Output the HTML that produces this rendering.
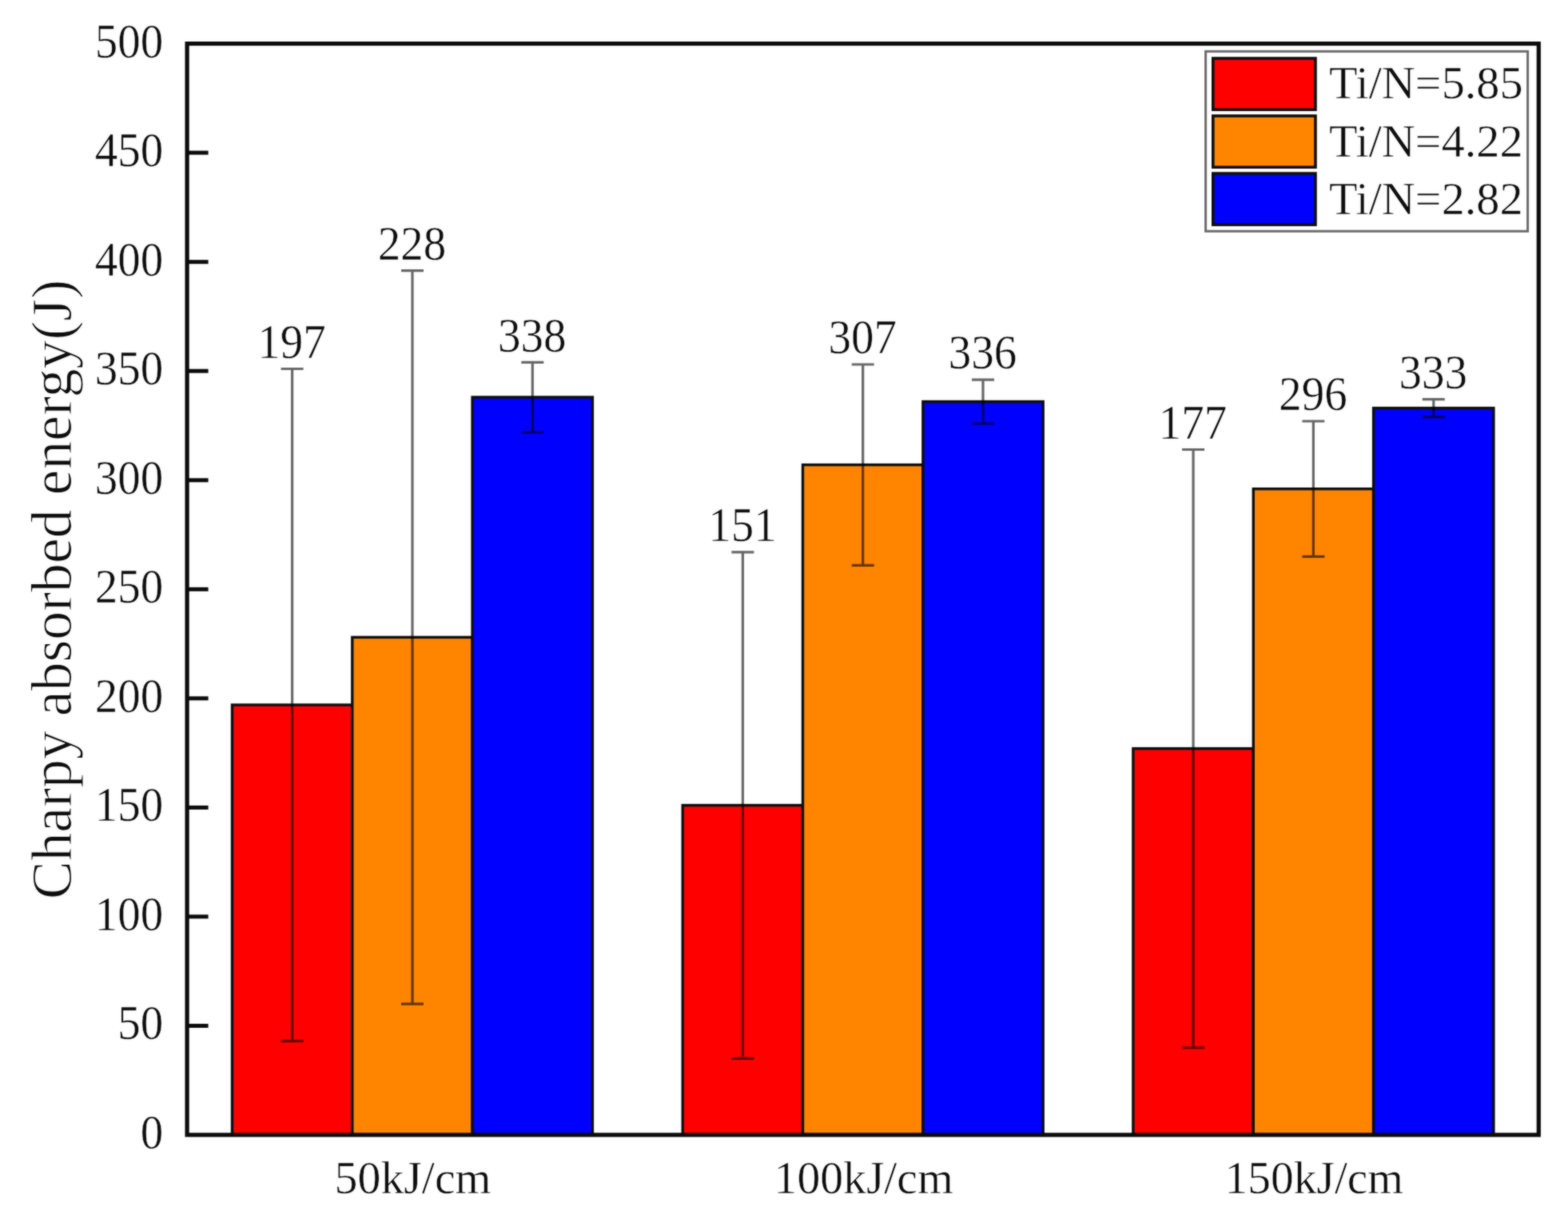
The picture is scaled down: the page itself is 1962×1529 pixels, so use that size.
<!DOCTYPE html>
<html lang="en">
<head>
<meta charset="utf-8">
<title>Charpy absorbed energy</title>
<style>
html,body{margin:0;padding:0;background:#fff;}
body{width:1962px;height:1529px;overflow:hidden;}
svg{display:block;}
text{font-family:"Liberation Serif","Times New Roman",serif;fill:#0c0c0c;stroke:#fff;stroke-width:0.5px;stroke-linejoin:round;}
.ttl{stroke-width:1px;}
</style>
</head>
<body>
<svg width="1962" height="1529" viewBox="0 0 1962 1529">
<defs><filter id="soft" x="0" y="0" width="100%" height="100%" filterUnits="objectBoundingBox" color-interpolation-filters="sRGB"><feGaussianBlur in="SourceGraphic" stdDeviation="0.8" result="b"/><feComposite in="SourceGraphic" in2="b" operator="arithmetic" k1="0" k2="0.45" k3="0.55" k4="0"/></filter></defs>
<g filter="url(#soft)">
<rect x="0" y="0" width="1962" height="1529" fill="#ffffff"/>
<g stroke="#0d0d0d" stroke-width="3.4">
<rect x="290.5" y="882.0" width="150.3" height="538.0" fill="#ff0000"/>
<rect x="440.8" y="797.4" width="150.3" height="622.6" fill="#ff8500"/>
<rect x="591.1" y="497.0" width="150.3" height="923.0" fill="#0000ff"/>
<rect x="854.2" y="1007.6" width="150.3" height="412.4" fill="#ff0000"/>
<rect x="1004.5" y="581.6" width="150.3" height="838.4" fill="#ff8500"/>
<rect x="1154.9" y="502.5" width="150.3" height="917.5" fill="#0000ff"/>
<rect x="1417.9" y="936.6" width="150.3" height="483.4" fill="#ff0000"/>
<rect x="1568.3" y="611.7" width="150.3" height="808.3" fill="#ff8500"/>
<rect x="1718.6" y="510.6" width="150.3" height="909.4" fill="#0000ff"/>
</g>
<g stroke="#000" stroke-opacity="0.6" stroke-width="3.2" fill="none">
<path d="M365.6 461.5V1302.6M351.6 461.5h28M351.6 1302.6h28"/>
<path d="M516.0 338.6V1256.2M502.0 338.6h28M502.0 1256.2h28"/>
<path d="M666.3 453.3V540.7M652.3 453.3h28M652.3 540.7h28"/>
<path d="M929.4 690.9V1324.4M915.4 690.9h28M915.4 1324.4h28"/>
<path d="M1079.7 456.0V707.3M1065.7 456.0h28M1065.7 707.3h28"/>
<path d="M1230.0 475.1V529.8M1216.0 475.1h28M1216.0 529.8h28"/>
<path d="M1493.1 562.5V1310.8M1479.1 562.5h28M1479.1 1310.8h28"/>
<path d="M1643.4 527.0V696.3M1629.4 527.0h28M1629.4 696.3h28"/>
<path d="M1793.8 499.7V521.6M1779.8 499.7h28M1779.8 521.6h28"/>
</g>
<g font-size="61" text-anchor="middle">
<text transform="translate(365.1 447.7) scale(0.9344 1)">197</text>
<text transform="translate(515.5 324.8) scale(0.9344 1)">228</text>
<text transform="translate(665.8 439.5) scale(0.9344 1)">338</text>
<text transform="translate(928.9 677.1) scale(0.9344 1)">151</text>
<text transform="translate(1079.2 442.2) scale(0.9344 1)">307</text>
<text transform="translate(1229.5 461.3) scale(0.9344 1)">336</text>
<text transform="translate(1492.6 548.7) scale(0.9344 1)">177</text>
<text transform="translate(1642.9 513.2) scale(0.9344 1)">296</text>
<text transform="translate(1793.3 485.9) scale(0.9344 1)">333</text>
</g>
<rect x="234.1" y="54.6" width="1691.2" height="1365.4" fill="none" stroke="#0a0a0a" stroke-width="5.2"/>
<g stroke="#0a0a0a" stroke-width="5">
<line x1="234.1" y1="1283.5" x2="260.6" y2="1283.5"/>
<line x1="234.1" y1="1146.9" x2="260.6" y2="1146.9"/>
<line x1="234.1" y1="1010.4" x2="260.6" y2="1010.4"/>
<line x1="234.1" y1="873.8" x2="260.6" y2="873.8"/>
<line x1="234.1" y1="737.3" x2="260.6" y2="737.3"/>
<line x1="234.1" y1="600.8" x2="260.6" y2="600.8"/>
<line x1="234.1" y1="464.2" x2="260.6" y2="464.2"/>
<line x1="234.1" y1="327.7" x2="260.6" y2="327.7"/>
<line x1="234.1" y1="191.1" x2="260.6" y2="191.1"/>
</g>
<g font-size="61" text-anchor="end">
<text transform="translate(204.2 1436.9) scale(0.9344 1)">0</text>
<text transform="translate(204.2 1300.4) scale(0.9344 1)">50</text>
<text transform="translate(204.2 1163.8) scale(0.9344 1)">100</text>
<text transform="translate(204.2 1027.3) scale(0.9344 1)">150</text>
<text transform="translate(204.2 890.7) scale(0.9344 1)">200</text>
<text transform="translate(204.2 754.2) scale(0.9344 1)">250</text>
<text transform="translate(204.2 617.7) scale(0.9344 1)">300</text>
<text transform="translate(204.2 481.1) scale(0.9344 1)">350</text>
<text transform="translate(204.2 344.6) scale(0.9344 1)">400</text>
<text transform="translate(204.2 208.0) scale(0.9344 1)">450</text>
<text transform="translate(204.2 71.5) scale(0.9344 1)">500</text>
</g>
<g font-size="57" text-anchor="middle">
<text x="516.6" y="1492.5" textLength="196.0" lengthAdjust="spacingAndGlyphs">50kJ/cm</text>
<text x="1080.7" y="1492.5" textLength="224.2" lengthAdjust="spacingAndGlyphs">100kJ/cm</text>
<text x="1644.3" y="1492.5" textLength="223.6" lengthAdjust="spacingAndGlyphs">150kJ/cm</text>
</g>
<text class="ttl" font-size="72" text-anchor="middle" transform="translate(89 737.6) rotate(-90)" textLength="775.5" lengthAdjust="spacingAndGlyphs">Charpy absorbed energy(J)</text>
<rect x="1508.6" y="64.3" width="403" height="225" fill="#fff" stroke="#6a6a6a" stroke-width="3"/>
<rect x="1517.8" y="73.0" width="128.2" height="64.2" fill="#ff0000" stroke="#0d0d0d" stroke-width="3.6"/>
<text x="1663" y="123.4" font-size="57" textLength="242.5" lengthAdjust="spacingAndGlyphs">Ti/N=5.85</text>
<rect x="1517.8" y="145.0" width="128.2" height="64.2" fill="#ff8500" stroke="#0d0d0d" stroke-width="3.6"/>
<text x="1663" y="195.7" font-size="57" textLength="242.5" lengthAdjust="spacingAndGlyphs">Ti/N=4.22</text>
<rect x="1517.8" y="217.0" width="128.2" height="64.2" fill="#0000ff" stroke="#0d0d0d" stroke-width="3.6"/>
<text x="1663" y="268.0" font-size="57" textLength="242.5" lengthAdjust="spacingAndGlyphs">Ti/N=2.82</text>
</g>
</svg>
</body>
</html>
